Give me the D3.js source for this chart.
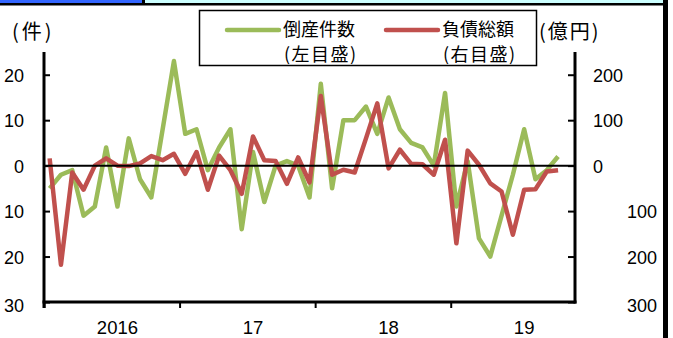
<!DOCTYPE html>
<html>
<head>
<meta charset="utf-8">
<script src="https://cdn.jsdelivr.net/npm/d3@7"></script>
<style>
  html, body { margin: 0; padding: 0; background: #fff; }
  svg { display: block; }
  text { font-family: "Liberation Sans", "Noto Sans CJK JP", sans-serif; fill: #000; }
  .unit, .note { font-family: "Noto Sans CJK JP", "Liberation Sans", sans-serif; }
</style>
</head>
<body>
<div id="wrapper"></div>
<script>
// monthly categories, Jan 2016 .. Nov 2019 (last one has no data)
const months = [
  "2016-01","2016-02","2016-03","2016-04","2016-05","2016-06","2016-07","2016-08","2016-09","2016-10","2016-11","2016-12",
  "2017-01","2017-02","2017-03","2017-04","2017-05","2017-06","2017-07","2017-08","2017-09","2017-10","2017-11","2017-12",
  "2018-01","2018-02","2018-03","2018-04","2018-05","2018-06","2018-07","2018-08","2018-09","2018-10","2018-11","2018-12",
  "2019-01","2019-02","2019-03","2019-04","2019-05","2019-06","2019-07","2019-08","2019-09","2019-10","2019-11"
]

// 倒産件数 (left axis, 件)
const bankruptcies = [
  -5, -2, -1, -11, -9, 4, -9, 6, -3, -7, 8, 23,
  7, 8, -1, 4, 8, -14, 3, -8, 0, 1, 0, -7,
  18, -5, 10, 10, 13, 7, 15, 8, 5, 4, 0, 16,
  -9, 1, -16, -20, -11, -2, 8, -3, -1, 2
]

// 負債総額 (right axis, 億円)
const liabilities = [
  16, -218, -15, -53, 0, 16, 0, -1, 5, 21, 12, 26,
  -18, 30, -53, 22, -10, -62, 64, 12, 10, -40, 18, -37,
  153, -20, -9, -15, 60, 137, -6, 35, 4, 3, -20, 57,
  -171, 33, 2, -39, -57, -152, -53, -52, -13, -10
]

const leftTicks = [-30, -20, -10, 0, 10, 20]
const rightTicks = [-300, -200, -100, 0, 100, 200]
const yearTicks = ["2016-01", "2017-01", "2018-01", "2019-01"]
const yearLabels = [
  {month: "2016-07", label: "2016"},
  {month: "2017-07", label: "17"},
  {month: "2018-07", label: "18"},
  {month: "2019-07", label: "19"},
]

const seriesNames = [
  {name: "倒産件数", note: "(左目盛)", color: "#9bbb59"},
  {name: "負債総額", note: "(右目盛)", color: "#c0504d"},
]

// 1. Dimensions

let dimensions = {
  width: 673,
  height: 338,
  plot: {left: 44, right: 575, top: 52, bottom: 302},
}

// 2. Canvas

const svg = d3.select("#wrapper")
  .append("svg")
    .attr("width", dimensions.width)
    .attr("height", dimensions.height)

// header strip and frame
svg.append("rect").attr("x", 0).attr("y", 0).attr("width", 142).attr("height", 3).attr("fill", "#3366ff")
svg.append("rect").attr("x", 145).attr("y", 0).attr("width", 518).attr("height", 3).attr("fill", "#ccffff")
svg.append("rect").attr("x", 142).attr("y", 0).attr("width", 3).attr("height", 5).attr("fill", "#000")
svg.append("rect").attr("x", 0).attr("y", 3).attr("width", 668).attr("height", 2.5).attr("fill", "#000")
svg.append("rect").attr("x", 663).attr("y", 0).attr("width", 5).attr("height", dimensions.height).attr("fill", "#000")

// 3. Scales

const xScale = d3.scaleLinear()
  .domain([0, months.length])
  .range([dimensions.plot.left, dimensions.plot.right])

const xMid = m => xScale(months.indexOf(m) + 0.5)

const yLeft = d3.scaleLinear()
  .domain([-30, 25])
  .range([dimensions.plot.bottom, dimensions.plot.top])

const yRight = d3.scaleLinear()
  .domain([-300, 250])
  .range([dimensions.plot.bottom, dimensions.plot.top])

// 4. Axes

const leftAxis = svg.append("g")
    .attr("transform", `translate(${dimensions.plot.left},0)`)
    .call(d3.axisLeft(yLeft)
      .tickValues(leftTicks)
      .tickFormat(d => Math.abs(d))
      .tickSize(-6)
      .tickSizeOuter(0)
      .tickPadding(20))
leftAxis.select(".domain").remove()
leftAxis.selectAll(".tick line").attr("stroke", "#000").attr("stroke-width", 2)
leftAxis.selectAll(".tick text")
    .style("font-size", "18px")
    .attr("dy", "0.36em")
leftAxis.selectAll(".tick")
    .filter(d => d === -30)
    .select("text").attr("dy", "0.5em")

const rightAxis = svg.append("g")
    .attr("transform", `translate(${dimensions.plot.right},0)`)
    .call(d3.axisRight(yRight)
      .tickValues(rightTicks)
      .tickFormat(d => Math.abs(d))
      .tickSize(-7)
      .tickSizeOuter(0)
      .tickPadding(18))
rightAxis.select(".domain").remove()
rightAxis.selectAll(".tick line").attr("stroke", "#000").attr("stroke-width", 2)
rightAxis.selectAll(".tick text")
    .style("font-size", "18px")
    .attr("dy", "0.36em")
rightAxis.selectAll(".tick")
    .filter(d => d < 0)
    .select("text")
      .attr("text-anchor", "end")
      .attr("x", 82)
rightAxis.selectAll(".tick")
    .filter(d => d === -300)
    .select("text").attr("dy", "0.5em")

const bottomAxis = svg.append("g")
    .attr("transform", `translate(0,${dimensions.plot.bottom})`)
    .call(d3.axisBottom(xScale)
      .tickValues(yearTicks.map(m => months.indexOf(m)))
      .tickFormat("")
      .tickSize(6)
      .tickSizeOuter(0))
bottomAxis.select(".domain").remove()
bottomAxis.selectAll(".tick line").attr("stroke", "#000").attr("stroke-width", 2)

svg.selectAll(".year-label")
  .data(yearLabels)
  .enter().append("text")
    .attr("class", "year-label")
    .attr("x", d => xMid(d.month))
    .attr("y", 327)
    .attr("dy", "0.36em")
    .attr("text-anchor", "middle")
    .style("font-size", "18.5px")
    .text(d => d.label)

// 5. Data lines

const lineLeft = d3.line()
  .x((d, i) => xScale(i + 0.5))
  .y(d => yLeft(d))

const lineRight = d3.line()
  .x((d, i) => xScale(i + 0.5))
  .y(d => yRight(d))

svg.append("path")
    .datum(bankruptcies)
    .attr("d", lineLeft)
    .attr("fill", "none")
    .attr("stroke", seriesNames[0].color)
    .attr("stroke-width", 4.5)
    .attr("stroke-linejoin", "round")

svg.append("path")
    .datum(liabilities)
    .attr("d", lineRight)
    .attr("fill", "none")
    .attr("stroke", seriesNames[1].color)
    .attr("stroke-width", 4.5)
    .attr("stroke-linejoin", "round")

// zero line and axis lines on top
svg.append("line")
    .attr("x1", dimensions.plot.left).attr("x2", dimensions.plot.right)
    .attr("y1", yLeft(0)).attr("y2", yLeft(0))
    .attr("stroke", "#000").attr("stroke-width", 2)

svg.append("line")
    .attr("x1", dimensions.plot.left).attr("x2", dimensions.plot.left)
    .attr("y1", dimensions.plot.top).attr("y2", dimensions.plot.bottom + 6)
    .attr("stroke", "#000").attr("stroke-width", 3)

svg.append("line")
    .attr("x1", dimensions.plot.right).attr("x2", dimensions.plot.right)
    .attr("y1", dimensions.plot.top).attr("y2", dimensions.plot.bottom + 1.5)
    .attr("stroke", "#000").attr("stroke-width", 3)

svg.append("line")
    .attr("x1", dimensions.plot.left - 1.5).attr("x2", dimensions.plot.right + 1.5)
    .attr("y1", dimensions.plot.bottom).attr("y2", dimensions.plot.bottom)
    .attr("stroke", "#000").attr("stroke-width", 3)

// 6. Units and legend

svg.append("text")
    .attr("class", "unit")
    .attr("x", 12).attr("y", 32).attr("dy", "0.36em")
    .style("font-size", "20px")
    .style("letter-spacing", "3px")
    .text("(件)")

svg.append("text")
    .attr("class", "unit")
    .attr("x", 539).attr("y", 32).attr("dy", "0.36em")
    .style("font-size", "20px")
    .style("letter-spacing", "2px")
    .text("(億円)")

const legend = svg.append("g")

legend.append("rect")
    .attr("x", 199.5).attr("y", 10.5)
    .attr("width", 337).attr("height", 55)
    .attr("fill", "#fff")
    .attr("stroke", "#000")
    .attr("stroke-width", 1.5)

const legendItems = legend.selectAll(".legend-item")
  .data(seriesNames)
  .enter().append("g")
    .attr("class", "legend-item")
    .attr("transform", (d, i) => `translate(${227 + i * 159},0)`)

legendItems.append("line")
    .attr("x1", 0).attr("x2", 52)
    .attr("y1", 30).attr("y2", 30)
    .attr("stroke", d => d.color)
    .attr("stroke-width", 4.5)
    .attr("stroke-linecap", "round")

legendItems.append("text")
    .attr("x", 56).attr("y", 30).attr("dy", "0.36em")
    .style("font-size", "18px")
    .text(d => d.name)

legendItems.append("text")
    .attr("class", "note")
    .attr("x", 57).attr("y", 55).attr("dy", "0.36em")
    .style("font-size", "18px")
    .style("letter-spacing", "1.5px")
    .text(d => d.note)
</script>
</body>
</html>
